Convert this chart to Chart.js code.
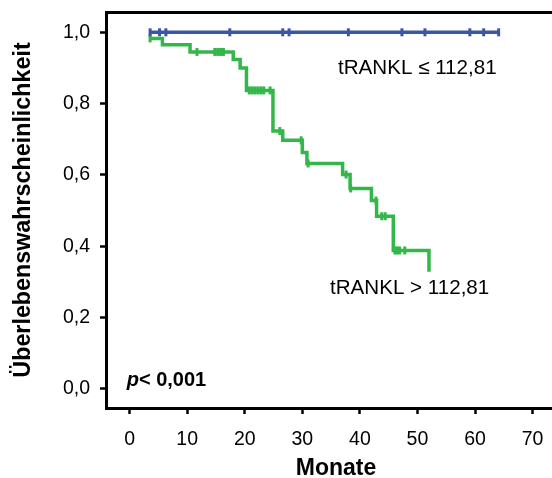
<!DOCTYPE html>
<html>
<head>
<meta charset="utf-8">
<script src="https://cdn.jsdelivr.net/npm/chart.js@4/dist/chart.umd.min.js"></script>
<style>
  html, body { margin: 0; padding: 0; background: #fff; overflow: hidden; width: 552px; height: 478px; }
  canvas { display: block; }
</style>
</head>
<body>
<canvas id="c" width="566" height="478"></canvas>
<script>
// ---- data ----
const xTickValues = [0, 10, 20, 30, 40, 50, 60, 70];
const yTickValues = [0, 0.2, 0.4, 0.6, 0.8, 1.0];

// tRANKL > 112,81 (green): event times (Monate) and survival after each step
const highTimes = [3.56, 5.7, 10.5, 18.0, 19.2, 20.3, 24.9, 26.6, 30.0, 30.8, 37.0, 38.3, 42.0, 42.9, 45.8, 52.0];
const highSurv  = [0.983, 0.965, 0.945, 0.924, 0.900, 0.837, 0.723, 0.697, 0.663, 0.632, 0.601, 0.562, 0.528, 0.484, 0.388, 0.328];
// censored observations (green)
const highCensorTimes = [3.56, 11.7, 14.8, 15.3, 15.8, 16.3, 20.8, 21.3, 21.8, 22.3, 22.8, 23.3, 24.4, 26.1, 29.8, 31.0, 37.6, 38.4, 42.8, 43.8, 44.4, 46.1, 46.5, 46.9, 47.8];
const highCensorSurv  = [0.983, 0.945, 0.945, 0.945, 0.945, 0.945, 0.837, 0.837, 0.837, 0.837, 0.837, 0.837, 0.837, 0.723, 0.697, 0.632, 0.601, 0.562, 0.528, 0.484, 0.484, 0.388, 0.388, 0.388, 0.388];

// tRANKL ≤ 112,81 (blue)
const lowTimes = [3.56, 64.3];
const lowSurv  = [1.0, 1.0];
const lowCensorTimes = [3.56, 5.2, 6.3, 17.4, 26.6, 27.7, 38.0, 47.3, 51.3, 59.1, 61.5, 64.1];
const lowCensorSurv  = [1.0, 1.0, 1.0, 1.0, 1.0, 1.0, 1.0, 1.0, 1.0, 1.0, 1.0, 1.0];

const lowLabel = 'tRANKL ≤ 112,81';
const highLabel = 'tRANKL > 112,81';
const xTitle = 'Monate';
const yTitle = 'Überlebenswahrscheinlichkeit';

// ---- styles ----
const GREEN = '#33b64a';
const BLUE = '#3c56a6';
const FONT = '"Liberation Sans", Arial, Helvetica, sans-serif';

const toPts = (xs, ys) => xs.map((x, i) => ({ x: x, y: ys[i] }));

const textPlugin = {
  id: 'kmText',
  afterDatasetsDraw(chart) {
    const { ctx, scales: { x, y } } = chart;
    ctx.save();
    ctx.fillStyle = '#000';
    ctx.textBaseline = 'alphabetic';
    ctx.textAlign = 'left';
    ctx.font = '20.6px ' + FONT;
    ctx.fillText(lowLabel, x.getPixelForValue(36.2), y.getPixelForValue(0.884));
    ctx.fillText(highLabel, x.getPixelForValue(34.8), y.getPixelForValue(0.267));
    // p-value
    const px = x.getPixelForValue(-0.5), py = y.getPixelForValue(0.0075);
    ctx.font = 'italic bold 20px ' + FONT;
    ctx.fillText('p', px, py);
    const w = ctx.measureText('p').width;
    ctx.font = 'bold 20px ' + FONT;
    ctx.fillText('< 0,001', px + w, py);
    ctx.restore();
  }
};

const noPad = s => { s.paddingTop = 0; s.paddingBottom = 0; s.paddingLeft = 0; s.paddingRight = 0; };

new Chart(document.getElementById('c'), {
  type: 'line',
  data: {
    datasets: [
      { data: toPts(lowTimes, lowSurv), borderColor: BLUE, borderWidth: 3.5, stepped: 'before', pointRadius: 0, fill: false },
      { data: toPts(highTimes, highSurv), borderColor: GREEN, borderWidth: 3.5, stepped: 'before', pointRadius: 0, fill: false },
      { data: toPts(lowCensorTimes, lowCensorSurv), showLine: false, pointStyle: 'line', rotation: 90, pointRadius: 4, pointBorderWidth: 3, pointBorderColor: BLUE, borderColor: BLUE },
      { data: toPts(highCensorTimes, highCensorSurv), showLine: false, pointStyle: 'line', rotation: 90, pointRadius: 4, pointBorderWidth: 3, pointBorderColor: GREEN, borderColor: GREEN }
    ]
  },
  options: {
    responsive: false,
    animation: false,
    devicePixelRatio: 1,
    layout: { autoPadding: false, padding: { top: 12, right: 0, bottom: 0, left: 0 } },
    plugins: { legend: { display: false }, tooltip: { enabled: false } },
    elements: { line: { tension: 0 } },
    scales: {
      x: {
        type: 'linear', position: 'bottom',
        min: -4.1, max: 75.8,
        afterBuildTicks: s => { s.ticks = xTickValues.map(v => ({ value: v })); },
        afterFit: s => { s.height = 70; noPad(s); },
        border: { display: true, color: '#000', width: 3 },
        grid: { drawOnChartArea: false, drawTicks: true, tickLength: 6, tickWidth: 2.5, tickColor: '#000' },
        ticks: { color: '#000', padding: 14, font: { family: FONT, size: 19.5 }, maxRotation: 0 },
        title: { display: true, text: xTitle, color: '#000', font: { family: FONT, size: 23, weight: 'bold' }, padding: { top: 0, bottom: -4.5 } }
      },
      x2: {
        type: 'linear', position: 'top',
        min: -4.1, max: 75.8,
        afterFit: s => { s.height = 0; noPad(s); },
        border: { display: true, color: '#000', width: 3 },
        grid: { display: false, drawTicks: false },
        ticks: { display: false }
      },
      y: {
        type: 'linear', position: 'left',
        min: -0.054, max: 1.057,
        afterBuildTicks: s => { s.ticks = yTickValues.map(v => ({ value: v })); },
        afterFit: s => { s.width = 106; noPad(s); },
        border: { display: true, color: '#000', width: 3 },
        grid: { drawOnChartArea: false, drawTicks: true, tickLength: 6, tickWidth: 2.5, tickColor: '#000' },
        ticks: { color: '#000', padding: 10, font: { family: FONT, size: 19.5 }, callback: v => v.toFixed(1).replace('.', ',') },
        title: { display: true, text: yTitle, color: '#000', font: { family: FONT, size: 23.3, weight: 'bold' }, padding: { top: 10, bottom: 0 } }
      }
    }
  },
  plugins: [textPlugin]
});
</script>
</body>
</html>
